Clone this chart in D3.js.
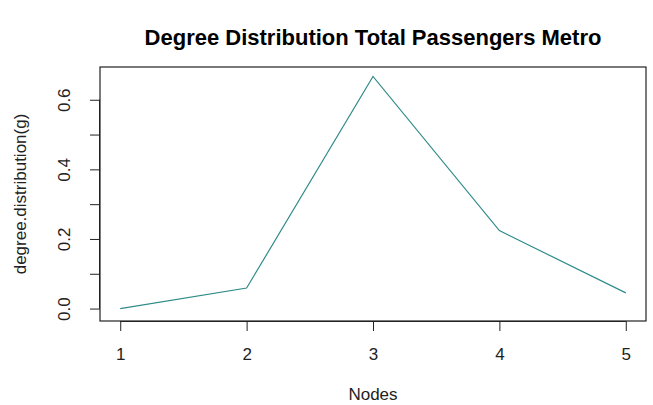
<!DOCTYPE html>
<html>
<head>
<meta charset="utf-8">
<script src="https://cdn.jsdelivr.net/npm/d3@7"></script>
<style>
  html, body { margin: 0; padding: 0; background: #fff; }
  svg { display: block; font-family: "Liberation Sans", Arial, sans-serif; }
</style>
</head>
<body>
<svg id="chart" width="653" height="405"></svg>
<script>
// Degree values (node degree) and their relative frequency
const nodes = [1, 2, 3, 4, 5];
const frequency = [0.0, 0.059, 0.667, 0.224, 0.045];
const xTicks = [1, 2, 3, 4, 5];
const yTicks = [0.0, 0.1, 0.2, 0.3, 0.4, 0.5, 0.6];
const yTickLabels = ["0.0", "", "0.2", "", "0.4", "", "0.6"];

const svg = d3.select("#chart");
const box = { left: 100, right: 646, top: 67, bottom: 321 };

const x = d3.scaleLinear().domain([0.84, 5.16]).range([box.left, box.right]);
const y = d3.scaleLinear().domain([-0.0357, 0.6941]).range([box.bottom, box.top]);

// Title
svg.append("text")
  .attr("x", (box.left + box.right) / 2)
  .attr("y", 45)
  .attr("text-anchor", "middle")
  .attr("font-size", 22)
  .attr("font-weight", "bold")
  .attr("fill", "#000")
  .text("Degree Distribution Total Passengers Metro");

// Plot frame
svg.append("rect")
  .attr("x", box.left).attr("y", box.top)
  .attr("width", box.right - box.left).attr("height", box.bottom - box.top)
  .attr("fill", "none").attr("stroke", "#222").attr("stroke-width", 1.2);

// Bottom axis
const xAxis = svg.append("g")
  .attr("transform", `translate(0,${box.bottom})`)
  .call(d3.axisBottom(x).tickValues(xTicks).tickSize(10).tickPadding(17).tickFormat(d3.format("d")));
xAxis.select(".domain").attr("d", `M${x(1)},0.5H${x(5)}`).attr("stroke", "#222");
xAxis.selectAll(".tick line").attr("stroke", "#222");
xAxis.selectAll(".tick text").attr("font-size", 17).attr("fill", "#222")
  .attr("font-family", "Liberation Sans, Arial, sans-serif");

// Left axis with rotated labels
const yAxis = svg.append("g")
  .attr("transform", `translate(${box.left},0)`)
  .call(d3.axisLeft(y).tickValues(yTicks).tickSize(10).tickFormat((d, i) => yTickLabels[i]));
yAxis.select(".domain").attr("d", `M-0.5,${y(0)}V${y(0.6)}`).attr("stroke", "#222");
yAxis.selectAll(".tick line").attr("stroke", "#222");
yAxis.selectAll(".tick text")
  .attr("font-size", 17).attr("fill", "#222")
  .attr("font-family", "Liberation Sans, Arial, sans-serif")
  .attr("x", null).attr("dy", null)
  .attr("text-anchor", "middle")
  .attr("transform", "translate(-36,0) rotate(-90)")
  .attr("y", 6);

// Axis titles
svg.append("text")
  .attr("x", (box.left + box.right) / 2)
  .attr("y", 400)
  .attr("text-anchor", "middle")
  .attr("font-size", 17).attr("fill", "#222")
  .text("Nodes");

svg.append("text")
  .attr("transform", `translate(26,${(box.top + box.bottom) / 2}) rotate(-90)`)
  .attr("text-anchor", "middle")
  .attr("font-size", 17).attr("fill", "#222")
  .text("degree.distribution(g)");

// Distribution line
const line = d3.line().x((d, i) => x(nodes[i])).y(d => y(d));
svg.append("path")
  .datum(frequency)
  .attr("d", line)
  .attr("fill", "none")
  .attr("stroke", "#2e8b88")
  .attr("stroke-width", 1.2);
</script>
</body>
</html>
